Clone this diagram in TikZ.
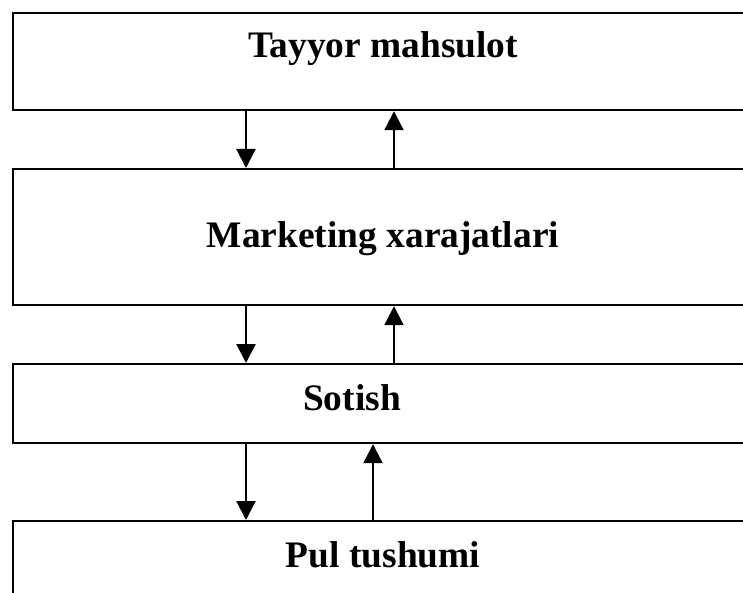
\documentclass[tikz,border=0pt]{standalone}
\usepackage{fontspec}
\setmainfont{Liberation Serif}
\usetikzlibrary{arrows.meta}
\begin{document}
\begin{tikzpicture}[x=1pt,y=-1pt,
  box/.style={draw=black,line width=2.2pt,rectangle,inner sep=0pt,anchor=north west},
  lbl/.style={font=\bfseries\fontsize{37.4}{42}\selectfont,anchor=base,inner sep=0pt},
  arr/.style={line width=2.2pt,-{Triangle[width=19pt,length=19pt]}}]
\useasboundingbox (0,0) rectangle (743,593);
\clip (0,0) rectangle (743,593);
\fill[white] (0,0) rectangle (743,593);
\node[box,minimum width=743pt,minimum height=97pt] (b1) at (12,12) {};
\node[box,minimum width=743pt,minimum height=136pt] (b2) at (12,168) {};
\node[box,minimum width=743pt,minimum height=79pt] (b3) at (12,363) {};
\node[box,minimum width=743pt,minimum height=100pt] (b4) at (12,520) {};
\node[lbl] (t1) at (383,58) {Tayyor mahsulot};
\node[lbl] (t2) at (383,248) {Marketing xarajatlari};
\node[lbl] (t3) at (352,410) {Sotish};
\node[lbl] (t4) at (383,567) {Pul tushumi};
\draw[arr] (b1.south -| 246,0) -- (b2.north -| 246,0);
\draw[arr] (b2.north -| 394,0) -- (b1.south -| 394,0);
\draw[arr] (b2.south -| 246,0) -- (b3.north -| 246,0);
\draw[arr] (b3.north -| 394,0) -- (b2.south -| 394,0);
\draw[arr] (b3.south -| 246,0) -- (b4.north -| 246,0);
\draw[arr] (b4.north -| 373,0) -- (b3.south -| 373,0);
\end{tikzpicture}
\end{document}
